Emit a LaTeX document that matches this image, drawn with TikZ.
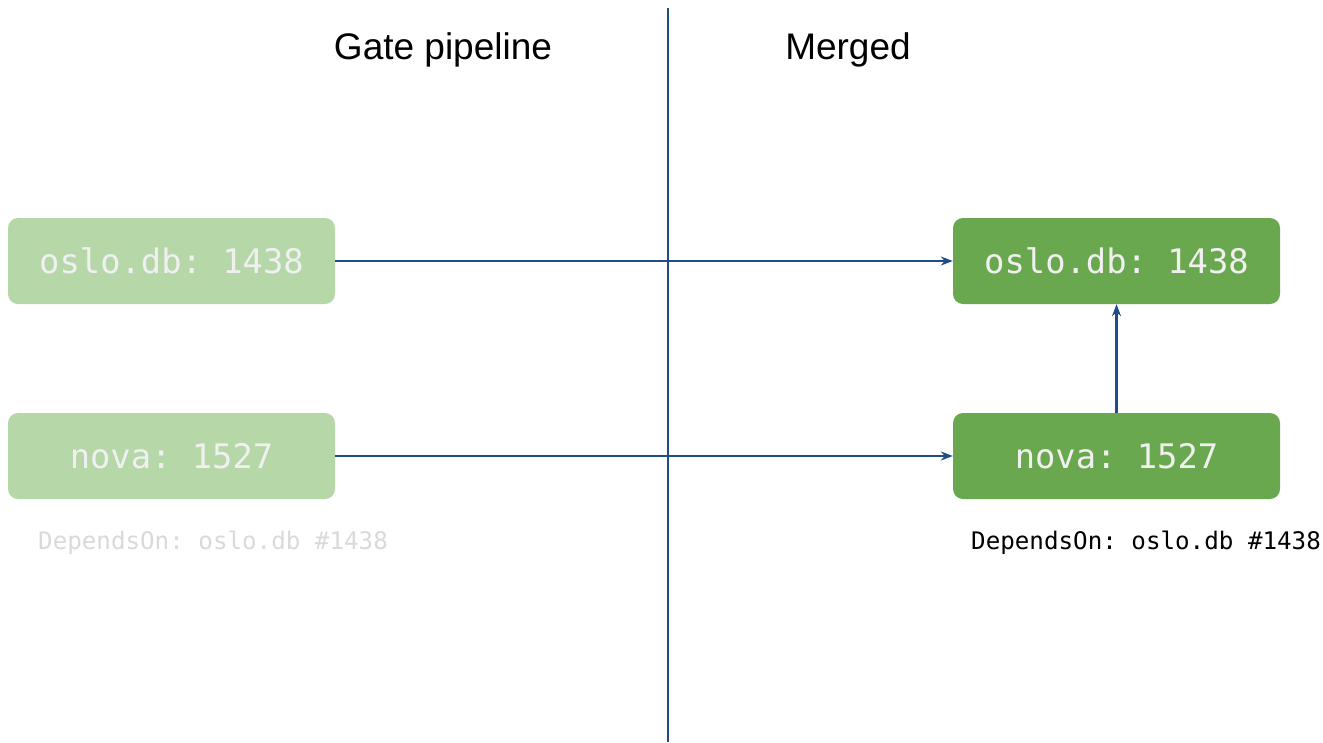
\documentclass[tikz,border=0pt]{standalone}
\usepackage{fontspec}
\setmainfont{Liberation Sans}
\setmonofont{DejaVu Sans Mono}
\usepackage{tikz}
\usetikzlibrary{arrows.meta, positioning}
\definecolor{lightgreen}{HTML}{B6D7A8}
\definecolor{darkgreen}{HTML}{6AA84F}
\definecolor{lineblue}{HTML}{1F4E85}

\begin{document}
\begin{tikzpicture}[x=1pt, y=-1pt,
  change/.style={rounded corners=10pt, minimum width=327pt, minimum height=86pt,
    inner sep=0pt, font=\ttfamily\fontsize{33.8}{38}\selectfont},
  pending/.style={change, fill=lightgreen, text=white!94!black},
  merged/.style={change, fill=darkgreen, text=white!94!black},
  depends/.style={font=\ttfamily\fontsize{24.2}{28}\selectfont, anchor=west, inner sep=0pt},
  heading/.style={font=\fontsize{37}{42}\selectfont},
  link/.style={draw=lineblue, line width=2.2pt, -{Stealth[length=12pt, width=9pt]}}]

\useasboundingbox (0,0) rectangle (1323,742);

% column titles and divider
\node[heading] (gatetitle) at (443,50) {Gate pipeline};
\node[heading] (mergedtitle) at (848,50) {Merged};
\coordinate (divtop) at (668,8);
\coordinate (divbot) at (668,742);
\draw[lineblue, line width=2.2pt] (divtop) -- (divbot);

% gate side
\node[pending] (gateoslo) at (171.5,261) {oslo.db: 1438};
\node[pending] (gatenova) at (171.5,456) {nova: 1527};
\node[depends, text=black!15] (gatedep) at (38,543) {DependsOn: oslo.db \#1438};

% merged side
\node[merged] (mergedoslo) at (1116.5,261) {oslo.db: 1438};
\node[merged] (mergednova) at (1116.5,456) {nova: 1527};
\node[depends, text=black] (mergeddep) at (971,543) {DependsOn: oslo.db \#1438};

\draw[link] (gateoslo) -- (mergedoslo);
\draw[link] (gatenova) -- (mergednova);
\draw[link] (mergednova) -- (mergedoslo);
\end{tikzpicture}
\end{document}
